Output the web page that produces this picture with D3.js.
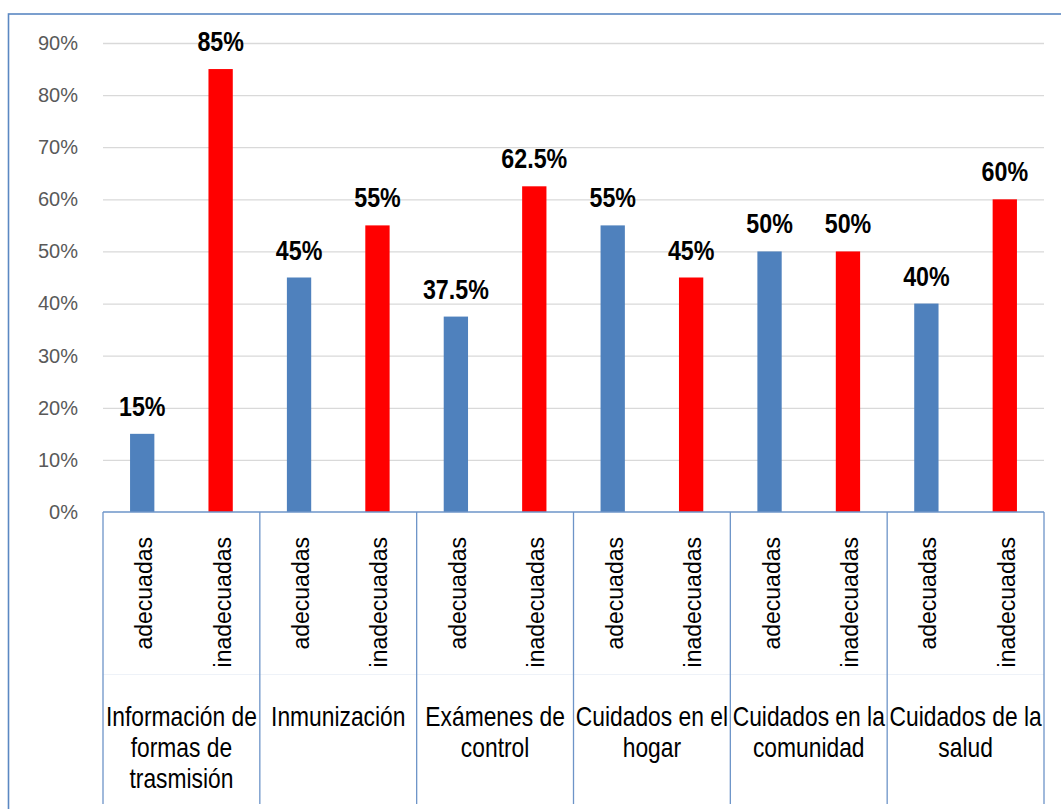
<!DOCTYPE html>
<html>
<head>
<meta charset="utf-8">
<script src="https://cdn.jsdelivr.net/npm/d3@7"></script>
<style>
  html, body { margin: 0; padding: 0; background: #ffffff; }
  svg { display: block; }
  text { font-family: "Liberation Sans", Arial, sans-serif; }
</style>
</head>
<body>
<svg id="chart" width="1061" height="809"></svg>
<script>
// Topics (multi-line labels) and the two answer groups inside each topic
const categories = [
  ["Información de", "formas de", "trasmisión"],
  ["Inmunización"],
  ["Exámenes de", "control"],
  ["Cuidados en el", "hogar"],
  ["Cuidados en la", "comunidad"],
  ["Cuidados de la", "salud"]
];
const subgroups = ["adecuadas", "inadecuadas"];

// Percentages per topic
const adecuadas   = [15, 45, 37.5, 55, 50, 40];
const inadecuadas = [85, 55, 62.5, 45, 50, 60];

// Y axis ticks (percent)
const yTicks = [0, 10, 20, 30, 40, 50, 60, 70, 80, 90];

const colors = { adecuadas: "#4F81BD", inadecuadas: "#FF0000" };
const series = { adecuadas, inadecuadas };

const svg = d3.select("#chart");

const plot = { left: 103, right: 1044, top: 43, bottom: 512 };
const axisBottom = 804;

// Outer frame
svg.append("rect")
  .attr("x", 8.5).attr("y", 14)
  .attr("width", 1200).attr("height", 1000)
  .attr("fill", "none")
  .attr("stroke", "#5B88C2")
  .attr("stroke-width", 1.6);

const x0 = d3.scaleBand()
  .domain(d3.range(categories.length))
  .range([plot.left, plot.right])
  .paddingInner(0).paddingOuter(0);

const x1 = d3.scaleBand()
  .domain(subgroups)
  .range([0, x0.bandwidth()])
  .paddingInner(0.69).paddingOuter(0.345);

const y = d3.scaleLinear()
  .domain([0, 90])
  .range([plot.bottom, plot.top]);

// Gridlines and tick labels
const yAxis = d3.axisLeft(y)
  .tickValues(yTicks)
  .tickSize(-(plot.right - plot.left))
  .tickPadding(25)
  .tickFormat(d => d + "%");

const gy = svg.append("g")
  .attr("transform", `translate(${plot.left},0)`)
  .call(yAxis);
gy.select(".domain").remove();
gy.selectAll(".tick line")
  .attr("stroke", "#D9D9D9")
  .attr("stroke-width", 1.3)
  .filter(d => d === 0).remove();
gy.selectAll(".tick text")
  .attr("fill", "#595959")
  .attr("font-size", 20)
  .style("font-family", "'Liberation Sans', Arial, sans-serif");

// Bars
const groups = svg.append("g").selectAll("g")
  .data(categories.map((c, i) => i))
  .join("g")
  .attr("transform", i => `translate(${x0(i)},0)`);

groups.selectAll("rect")
  .data(i => subgroups.map(k => ({ key: k, value: series[k][i] })))
  .join("rect")
  .attr("x", d => x1(d.key))
  .attr("width", x1.bandwidth())
  .attr("y", d => y(d.value))
  .attr("height", d => y(0) - y(d.value))
  .attr("fill", d => colors[d.key]);

// Value labels
groups.selectAll("text.value")
  .data(i => subgroups.map(k => ({ key: k, value: series[k][i] })))
  .join("text")
  .attr("class", "value")
  .attr("transform", d => `translate(${x1(d.key) + x1.bandwidth() / 2},${y(d.value) - 18}) scale(0.83,1)`)
  .attr("text-anchor", "middle")
  .attr("font-size", 28)
  .attr("font-weight", "bold")
  .attr("fill", "#000")
  .text(d => d.value + "%");

// Category axis: baseline, separators
const axisColor = "#6D94C8";
svg.append("line")
  .attr("x1", plot.left).attr("x2", plot.right)
  .attr("y1", plot.bottom).attr("y2", plot.bottom)
  .attr("stroke", axisColor).attr("stroke-width", 1.3);

svg.append("line")
  .attr("x1", plot.left).attr("x2", plot.right)
  .attr("y1", 674.5).attr("y2", 674.5)
  .attr("stroke", "#EEF2F8").attr("stroke-width", 1);

const seps = d3.range(categories.length + 1).map(i =>
  i < categories.length ? x0(i) : x0(categories.length - 1) + x0.bandwidth());
svg.append("g").selectAll("line")
  .data(seps)
  .join("line")
  .attr("x1", d => d).attr("x2", d => d)
  .attr("y1", plot.bottom).attr("y2", axisBottom)
  .attr("stroke", axisColor).attr("stroke-width", 1.3);

// Rotated sub-category labels
groups.selectAll("text.sub")
  .data(subgroups)
  .join("text")
  .attr("class", "sub")
  .attr("transform", k => `translate(${x1(k) + x1.bandwidth() / 2},537) rotate(-90)`)
  .attr("y", 10)
  .attr("text-anchor", "end")
  .attr("font-size", 23)
  .attr("fill", "#000")
  .text(k => k);

// Topic labels (multi-line)
groups.append("text")
  .attr("transform", `translate(${x0.bandwidth() / 2},726) scale(0.815,1)`)
  .attr("text-anchor", "middle")
  .attr("font-size", 28)
  .attr("fill", "#000")
  .selectAll("tspan")
  .data(i => categories[i])
  .join("tspan")
  .attr("x", 0)
  .attr("dy", (d, j) => j === 0 ? 0 : 31)
  .text(d => d);
</script>
</body>
</html>
